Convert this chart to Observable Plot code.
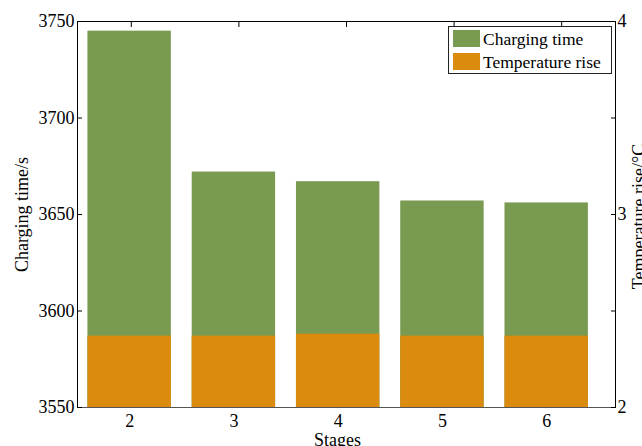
<!DOCTYPE html>
<html>
<head>
<meta charset="utf-8">
<script src="https://cdn.jsdelivr.net/npm/d3@7"></script>
<script src="https://cdn.jsdelivr.net/npm/@observablehq/plot@0.6"></script>
<style>
  body { margin: 0; background: #fff; }
  #chart { position: relative; width: 642px; height: 446px; overflow: hidden;
           font-family: "Liberation Serif", "Times New Roman", serif; }
  #chart svg text { font-family: "Liberation Serif", "Times New Roman", serif; }
  .legend { position: absolute; left: 448px; top: 26px; width: 162px; height: 46px;
            border: 1px solid #222; background: #fff; font-size: 17.5px; color: #000; }
  .legend .sw { position: absolute; left: 4px; width: 27px; height: 17px; }
  .legend .lab { position: absolute; left: 34px; line-height: 18px; white-space: nowrap; }
</style>
</head>
<body>
<div id="chart"></div>
<script>
// Number of charging stages
const stages = [2, 3, 4, 5, 6];
// Total charging time per strategy (s)
const chargingTime = [3745, 3672, 3667, 3657, 3656];
// Battery temperature rise per strategy (°C)
const temperatureRise = [2.37, 2.37, 2.38, 2.37, 2.37];
// Axis ticks
const timeTicks = [3550, 3600, 3650, 3700, 3750];
const tempTicks = [2, 2.5, 3, 3.5, 4];
const tempLabels = [2, 3, 4];

const seriesNames = ["Charging time", "Temperature rise"];
const colors = ["#799a51", "#db8b0e"];

const xDomain = [1.5, 6.66];
const timeDomain = [3550, 3750];
// the temperature axis shares the vertical extent of the time axis
const tempToTime = d3.scaleLinear([2, 4], timeDomain);
// the temperature axes spans categories 0.5..5.5 across the whole frame
const topCat = d3.scaleLinear([0.5, 5.5], xDomain);

const rows = stages.map((s, i) => ({
  stage: s,
  time: chargingTime[i],
  temp: temperatureRise[i]
}));

const barHalf = 0.4;
const font = "'Liberation Serif', 'Times New Roman', serif";

const plot = Plot.plot({
  width: 642,
  height: 446,
  marginLeft: 77,
  marginRight: 27,
  marginTop: 21,
  marginBottom: 39,
  x: { type: "linear", domain: xDomain },
  y: { domain: timeDomain },
  style: { fontFamily: font, fontSize: "18px", background: "white", color: "black", overflow: "visible" },
  marks: [
    Plot.rectY(rows, {
      x1: d => d.stage - barHalf, x2: d => d.stage + barHalf,
      y1: timeDomain[0], y2: "time", fill: colors[0]
    }),
    Plot.rectY(rows, {
      x1: d => d.stage - barHalf, x2: d => d.stage + barHalf,
      y1: timeDomain[0], y2: d => tempToTime(d.temp), fill: colors[1]
    }),
    // axes box
    Plot.ruleY([timeDomain[1]], { stroke: "#000", strokeWidth: 1 }),
    Plot.ruleY([timeDomain[0]], { stroke: "#555", strokeWidth: 1 }),
    Plot.ruleX([xDomain[0]], { stroke: "#000", strokeWidth: 1 }),
    Plot.ruleX([xDomain[1]], { stroke: "#000", strokeWidth: 1 }),
    // left axis: charging time
    Plot.axisY(timeTicks, {
      anchor: "left", tickSize: -5, tickPadding: 8, fontSize: 18, fontFamily: font,
      fontVariant: "normal", tickFormat: d => String(d), label: null, stroke: "#000"
    }),
    // right axis: temperature rise
    Plot.axisY(tempTicks.map(t => tempToTime(t)), {
      anchor: "right", tickSize: -5, tickPadding: 7, fontSize: 18, fontFamily: font,
      fontVariant: "normal", label: null,
      tickFormat: v => {
        const t = Math.round(tempToTime.invert(v) * 10) / 10;
        return tempLabels.includes(t) ? String(t) : "";
      }
    }),
    // top ticks of the temperature axes
    Plot.axisX(stages.map((s, i) => topCat(i + 1)), {
      anchor: "top", tickSize: -5, tickFormat: () => "", label: null
    }),
    // bottom axis: stages
    Plot.axisX(stages, {
      anchor: "bottom", tickSize: 0, tickPadding: 7, fontSize: 18, fontFamily: font,
      fontVariant: "normal", tickFormat: d => String(d), label: null
    }),
    Plot.text(["Charging time/s"], {
      frameAnchor: "left", textAnchor: "middle", rotate: -90, dx: -50, lineAnchor: "bottom",
      fontSize: 18, fontFamily: font, fill: "#000"
    }),
    Plot.text(["Temperature rise/\u00b0C"], {
      frameAnchor: "right", textAnchor: "middle", rotate: -90, dx: 29, dy: 2, lineAnchor: "bottom",
      fontSize: 18, fontFamily: font, fill: "#000"
    }),
    Plot.text(["Stages"], {
      frameAnchor: "bottom", dx: -9, dy: 38, lineAnchor: "bottom",
      fontSize: 18, fontFamily: font, fill: "#000"
    })
  ]
});

const chart = document.getElementById("chart");
chart.appendChild(plot);

// legend box in the upper right of the frame
const legend = document.createElement("div");
legend.className = "legend";
seriesNames.forEach((name, i) => {
  const sw = document.createElement("div");
  sw.className = "sw";
  sw.style.top = (3 + i * 22.5) + "px";
  sw.style.background = colors[i];
  legend.appendChild(sw);
  const lab = document.createElement("div");
  lab.className = "lab";
  lab.style.top = (2.8 + i * 23.4) + "px";
  lab.textContent = name;
  legend.appendChild(lab);
});
chart.appendChild(legend);
</script>
</body>
</html>
